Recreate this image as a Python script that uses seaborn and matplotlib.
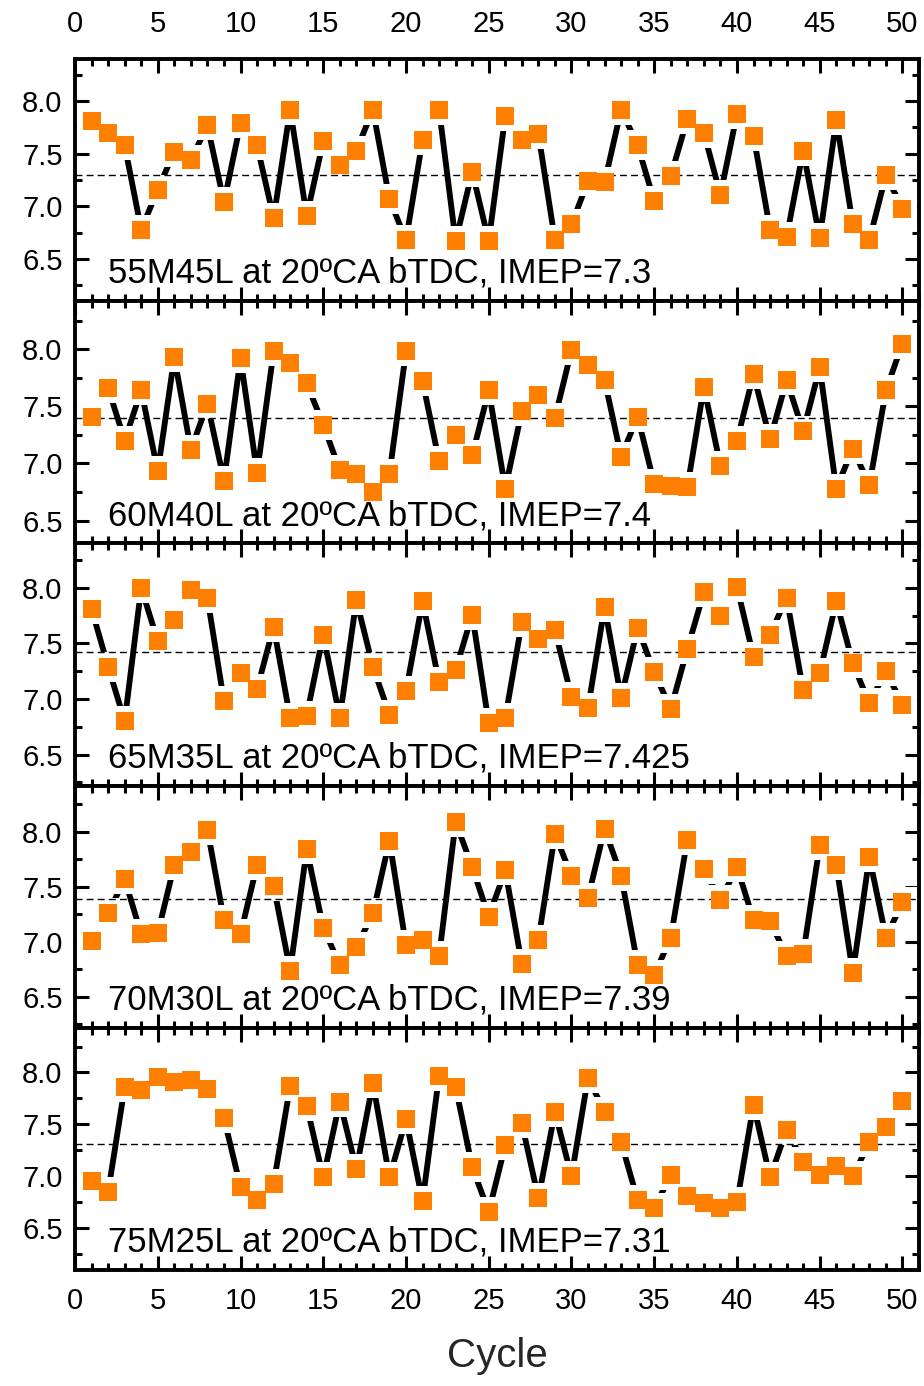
import matplotlib
matplotlib.use("Agg")
import matplotlib.pyplot as plt
import numpy as np
import pandas as pd
import seaborn as sns
from matplotlib.ticker import MultipleLocator, FormatStrFormatter

cycles = list(range(1, 51))

imep_55M45L = [7.81, 7.70, 7.58, 6.78, 7.16, 7.52, 7.44, 7.77, 7.04, 7.79,
               7.58, 6.89, 7.92, 6.91, 7.62, 7.39, 7.53, 7.92, 7.07, 6.68,
               7.63, 7.92, 6.67, 7.33, 6.67, 7.86, 7.63, 7.69, 6.68, 6.83,
               7.24, 7.23, 7.92, 7.58, 7.05, 7.29, 7.83, 7.70, 7.11, 7.88,
               7.67, 6.78, 6.71, 7.53, 6.70, 7.82, 6.83, 6.68, 7.30, 6.98]

imep_60M40L = [7.41, 7.66, 7.20, 7.64, 6.93, 7.93, 7.12, 7.52, 6.85, 7.92,
               6.92, 7.98, 7.88, 7.70, 7.34, 6.94, 6.91, 6.75, 6.91, 7.98,
               7.72, 7.02, 7.25, 7.07, 7.64, 6.78, 7.46, 7.60, 7.40, 7.99,
               7.86, 7.73, 7.06, 7.41, 6.82, 6.80, 6.79, 7.67, 6.98, 7.20,
               7.78, 7.21, 7.73, 7.28, 7.84, 6.78, 7.13, 6.81, 7.64, 8.05]

imep_65M35L = [7.81, 7.29, 6.80, 8.00, 7.52, 7.71, 7.98, 7.91, 6.98, 7.23,
               7.09, 7.65, 6.83, 6.85, 7.58, 6.83, 7.89, 7.29, 6.86, 7.07,
               7.88, 7.15, 7.26, 7.76, 6.78, 6.83, 7.69, 7.54, 7.62, 7.02,
               6.92, 7.83, 7.01, 7.64, 7.24, 6.91, 7.45, 7.96, 7.75, 8.01,
               7.38, 7.58, 7.91, 7.08, 7.23, 7.88, 7.32, 6.96, 7.25, 6.95]

imep_70M30L = [7.01, 7.26, 7.57, 7.07, 7.08, 7.70, 7.82, 8.02, 7.20, 7.07,
               7.70, 7.51, 6.74, 7.84, 7.13, 6.79, 6.95, 7.26, 7.92, 6.97,
               7.02, 6.87, 8.09, 7.68, 7.23, 7.65, 6.80, 7.02, 7.98, 7.60,
               7.40, 8.03, 7.60, 6.79, 6.70, 7.04, 7.93, 7.66, 7.38, 7.68,
               7.20, 7.19, 6.87, 6.89, 7.88, 7.70, 6.72, 7.77, 7.04, 7.36]

imep_75M25L = [6.96, 6.85, 7.86, 7.83, 7.96, 7.91, 7.93, 7.84, 7.56, 6.90,
               6.77, 6.93, 7.87, 7.68, 6.99, 7.72, 7.07, 7.90, 6.99, 7.55,
               6.76, 7.97, 7.86, 7.09, 6.66, 7.30, 7.51, 6.79, 7.62, 7.00,
               7.95, 7.62, 7.33, 6.77, 6.70, 7.01, 6.81, 6.74, 6.70, 6.75,
               7.69, 6.99, 7.45, 7.14, 7.01, 7.10, 7.00, 7.33, 7.48, 7.73]

series = [imep_55M45L, imep_60M40L, imep_65M35L, imep_70M30L, imep_75M25L]
labels = ["55M45L at 20ºCA bTDC, IMEP=7.3",
          "60M40L at 20ºCA bTDC, IMEP=7.4",
          "65M35L at 20ºCA bTDC, IMEP=7.425",
          "70M30L at 20ºCA bTDC, IMEP=7.39",
          "75M25L at 20ºCA bTDC, IMEP=7.31"]
means = [7.3, 7.4, 7.425, 7.39, 7.31]
ylims = [(6.1, 8.4), (6.3, 8.42), (6.22, 8.4), (6.22, 8.42), (6.1, 8.43)]

sns.set_theme(style="ticks")
plt.rcParams['font.family'] = ['Liberation Sans', 'DejaVu Sans']

ORANGE = "#FF8000"

fig, axes = plt.subplots(5, 1, figsize=(9.24, 13.86), dpi=100, sharex=True)
fig.subplots_adjust(left=0.0812, right=0.9946, top=0.9574, bottom=0.0837, hspace=0)

for i, ax in enumerate(axes):
    df = pd.DataFrame({"Cycle": cycles, "IMEP": series[i]})
    sns.lineplot(data=df, x="Cycle", y="IMEP", ax=ax, color="black", lw=4.2, zorder=1)
    sns.scatterplot(data=df, x="Cycle", y="IMEP", ax=ax, marker="s", s=440,
                    color="white", linewidth=0, zorder=2)
    ax.axhline(means[i], color="black", lw=1.0, ls=(0, (5, 3)), zorder=2.5)
    sns.scatterplot(data=df, x="Cycle", y="IMEP", ax=ax, marker="s", s=155,
                    color=ORANGE, linewidth=0, zorder=3)
    ax.set_xlim(0, 51)
    ax.set_ylim(*ylims[i])
    ax.xaxis.set_major_locator(MultipleLocator(5))
    ax.xaxis.set_minor_locator(MultipleLocator(1))
    ax.yaxis.set_major_locator(MultipleLocator(0.5))
    ax.yaxis.set_minor_locator(MultipleLocator(0.25))
    ax.yaxis.set_major_formatter(FormatStrFormatter("%.1f"))
    ax.set_xlabel("")
    ax.set_ylabel("")
    for sp in ax.spines.values():
        sp.set_visible(True)
        sp.set_linewidth(2.8)
        sp.set_color("black")
    ax.tick_params(which="both", direction="in", top=True, right=True,
                   bottom=True, left=True, color="black", labelcolor="black")
    ax.tick_params(which="major", length=10, width=2.2, labelsize=21)
    ax.tick_params(which="minor", length=5, width=2.2)
    ax.tick_params(axis="y", pad=9)
    ax.tick_params(axis="x", labelbottom=(i == 4), labeltop=(i == 0))
    ax.text(0.0386, 0.115, labels[i], transform=ax.transAxes, fontsize=25,
            ha="left", va="center", color="black")

axes[0].tick_params(axis="x", pad=15)
axes[4].tick_params(axis="x", pad=12)
axes[4].set_xlabel("Cycle", fontsize=29, labelpad=16)

fig.savefig("out.png", dpi=100)
